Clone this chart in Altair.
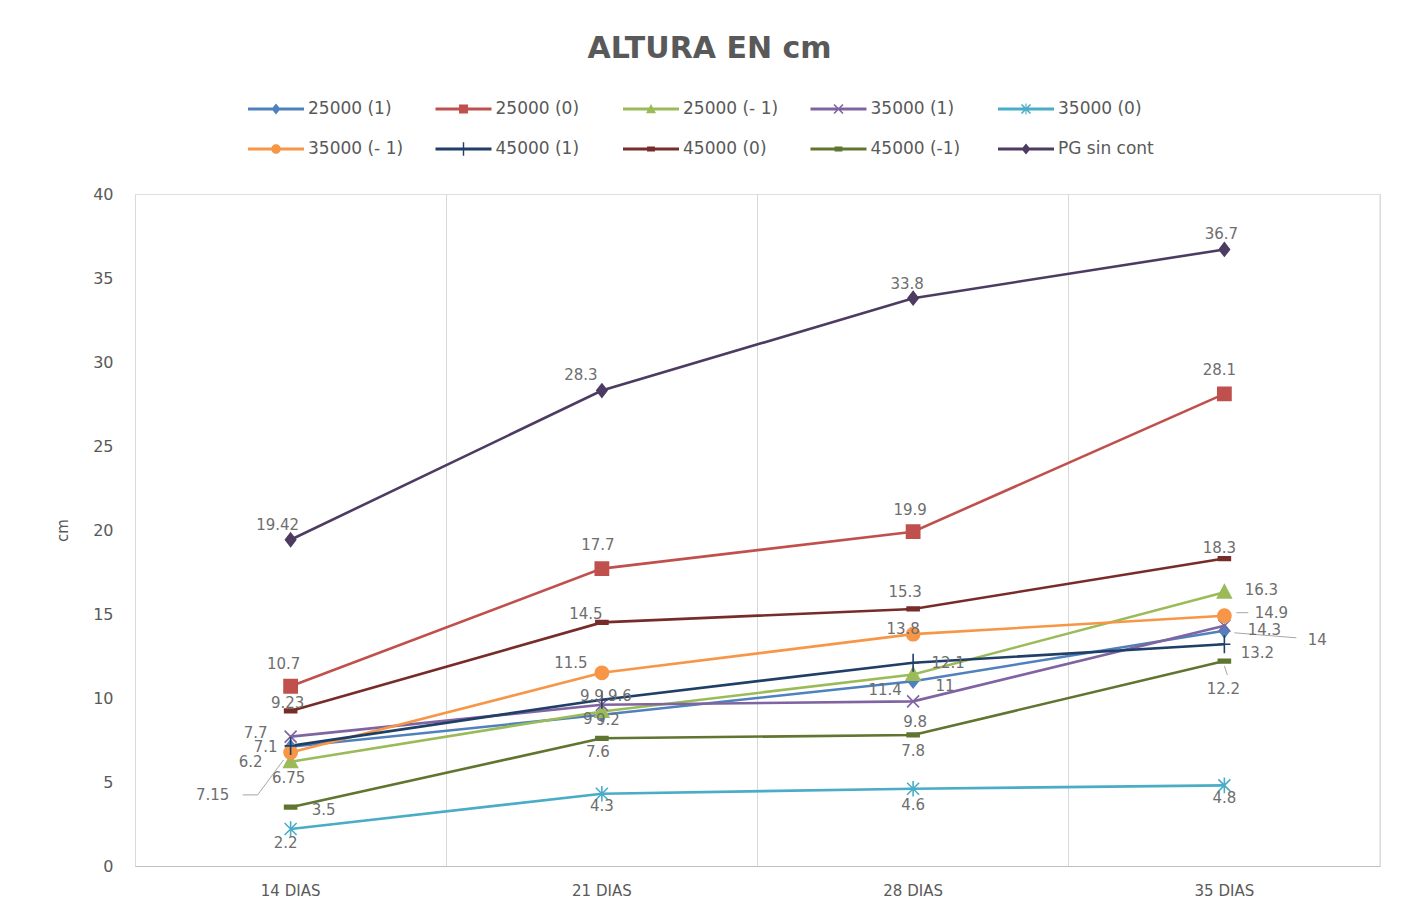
import altair as alt
import pandas as pd

# ---------------- data ----------------
dias = ["14 DIAS", "21 DIAS", "28 DIAS", "35 DIAS"]
series = ["25000 (1)", "25000 (0)", "25000 (- 1)", "35000 (1)", "35000 (0)",
          "35000 (- 1)", "45000  (1)", "45000 (0)", "45000 (-1)", "PG sin cont"]

v_25000_p1 = [7.1, 9.0, 11.0, 14.0]
v_25000_0 = [10.7, 17.7, 19.9, 28.1]
v_25000_m1 = [6.2, 9.2, 11.4, 16.3]
v_35000_p1 = [7.7, 9.6, 9.8, 14.3]
v_35000_0 = [2.2, 4.3, 4.6, 4.8]
v_35000_m1 = [6.75, 11.5, 13.8, 14.9]
v_45000_p1 = [7.15, 9.9, 12.1, 13.2]
v_45000_0 = [9.23, 14.5, 15.3, 18.3]
v_45000_m1 = [3.5, 7.6, 7.8, 12.2]
v_pg = [19.42, 28.3, 33.8, 36.7]

all_values = [v_25000_p1, v_25000_0, v_25000_m1, v_35000_p1, v_35000_0,
              v_35000_m1, v_45000_p1, v_45000_0, v_45000_m1, v_pg]

# ---------------- style ----------------
colors = ["#4F81BD", "#C0504D", "#9BBB59", "#8064A2", "#4BACC6",
          "#F79646", "#1F3F66", "#772C2A", "#5F7530", "#4D3B62"]

# marker paths (unit = sqrt(size)/2 px)
DIAMOND = "M0,-1.1L0.85,0L0,1.1L-0.85,0Z"
SQUARE = "M-1.1,-1.1H1.1V1.1H-1.1Z"
TRIANGLE = "M0,-1.2L1.15,0.95H-1.15Z"
XMARK = "M-1,-1L1,1M-1,1L1,-1"
STAR = "M-1,-1L1,1M-1,1L1,-1M0,-1.3L0,1.3"
CIRCLE = "M-1.1,0A1.1,1.1,0,1,1,1.1,0A1.1,1.1,0,1,1,-1.1,0Z"
PLUS = "M-1,0L1,0M0,-1.5L0,1.5"
DASH = "M-1,-0.3H1V0.3H-1Z"
marker_paths = [DIAMOND, SQUARE, TRIANGLE, XMARK, STAR, CIRCLE, PLUS, DASH, DASH, DIAMOND]

# legend symbols: line + marker, filled polygons (unit = 28 px)
LINE = "M-1,-0.05H1V0.05H-1Z"
L_DIAMOND = "M0,-0.2L0.16,0L0,0.2L-0.16,0Z"
L_SQUARE = "M-0.16,-0.16H0.16V0.16H-0.16Z"
L_TRIANGLE = "M0,-0.18L0.18,0.15H-0.18Z"
L_X = ("M-0.18,-0.14L-0.14,-0.18L0.18,0.14L0.14,0.18Z"
       "M-0.18,0.14L0.14,-0.18L0.18,-0.14L-0.14,0.18Z")
L_STAR = L_X + "M-0.02,-0.2H0.02V0.2H-0.02Z"
L_CIRCLE = "M-0.17,0A0.17,0.17,0,1,1,0.17,0A0.17,0.17,0,1,1,-0.17,0Z"
L_PLUS = "M-0.025,-0.24H0.025V0.24H-0.025Z"
L_DASH = "M-0.14,-0.09H0.14V0.09H-0.14Z"
legend_paths = [LINE + p for p in [L_DIAMOND, L_SQUARE, L_TRIANGLE, L_X, L_STAR,
                                   L_CIRCLE, L_PLUS, L_DASH, L_DASH, L_DIAMOND]]

# data-label placement (dx, dy in px) for each series, one per day
label_offsets = {
    "25000 (1)": [(-25, 0), (-14, 4), (32, 5), (93, 9)],
    "25000 (0)": [(-7, -22), (-4, -24), (-3, -22), (-5, -24)],
    "25000 (- 1)": [(-40, 0), (6, 9), (-28, 16), (37, -2)],
    "35000 (1)": [(-35, -4), (18, -9), (2, 21), (40, 4)],
    "35000 (0)": [(-5, 14), (0, 12), (0, 16), (0, 13)],
    "35000 (- 1)": [(-2, 25), (-31, -10), (-10, -5), (47, -3)],
    "45000  (1)": [(-78, 49), (-10, -4), (35, 0), (33, 9)],
    "45000 (0)": [(-3, -8), (-16, -8), (-8, -17), (-5, -11)],
    "45000 (-1)": [(33, 3), (-4, 14), (0, 16), (-1, 28)],
    "PG sin cont": [(-13, -15), (-21, -16), (-6, -14), (-3, -15)],
}

# leader lines for displaced labels: (serie, dia, start offset, end offset) in px
leaders = [
    ("45000  (1)", "14 DIAS", (-48, 49), (-33, 49)),
    ("45000  (1)", "14 DIAS", (-33, 49), (-7, 14)),
    ("35000 (- 1)", "35 DIAS", (12, -3), (24, -3)),
    ("25000 (1)", "35 DIAS", (10, 2), (72, 7)),
    ("45000 (-1)", "35 DIAS", (0, 5), (3, 14)),
]

rows = []
for s, vals in zip(series, all_values):
    for d, v in zip(dias, vals):
        rows.append({"serie": s, "serie_m": s, "dia": d, "valor": v, "label": f"{v:g}"})
df = pd.DataFrame(rows)

W, H = 1245, 672
FONT = "DejaVu Sans"
GRAY = "#595959"

x_enc = alt.X("dia:N", sort=dias, bandPosition=0.5,
              scale=alt.Scale(type="band", paddingInner=0, paddingOuter=0),
              axis=alt.Axis(title=None, bandPosition=0, grid=True, gridColor="#D9D9D9",
                            gridWidth=1, ticks=False, labelAlign="center",
                            domainColor="#BFBFBF", labelColor=GRAY, labelFont=FONT,
                            labelFontSize=15, labelPadding=24, labelAngle=0))
y_enc = alt.Y("valor:Q", scale=alt.Scale(domain=[0, 40], nice=False),
              axis=alt.Axis(title="cm", values=list(range(0, 41, 5)), grid=False,
                            domain=False, ticks=False, labelColor=GRAY, labelFont=FONT,
                            labelFontSize=16, labelPadding=22, titleColor=GRAY,
                            titleFont=FONT, titleFontSize=15, titleFontWeight="normal",
                            titlePadding=22))

base = alt.Chart(df)

lines = base.mark_line(strokeWidth=2.6).encode(
    x=x_enc, y=y_enc,
    stroke=alt.Stroke("serie:N", scale=alt.Scale(domain=series, range=colors), legend=None),
)

markers = base.mark_point(filled=True, size=144, strokeWidth=1.6, opacity=1).encode(
    x=x_enc, y=y_enc,
    fill=alt.Fill("serie:N", scale=alt.Scale(domain=series, range=colors), legend=None),
    stroke=alt.Stroke("serie:N", scale=alt.Scale(domain=series, range=colors), legend=None),
    shape=alt.Shape("serie_m:N", scale=alt.Scale(domain=series, range=marker_paths), legend=None),
)

# data labels, one layer per placement
groups = {}
for s in series:
    for d, off in zip(dias, label_offsets[s]):
        groups.setdefault(off, []).append((s, d))
label_layers = []
for off, members in groups.items():
    cond = " || ".join(
        f"(datum.serie === '{s}' && datum.dia === '{d}')" for s, d in members)
    label_layers.append(
        base.transform_filter(cond)
        .mark_text(font=FONT, fontSize=15, color="#6E6E6E", dx=off[0], dy=off[1])
        .encode(x=x_enc, y=y_enc, text="label:N")
    )

leader_layers = []
for s, d, p0, p1 in leaders:
    leader_layers.append(
        base.transform_filter(f"datum.serie === '{s}' && datum.dia === '{d}'")
        .mark_rule(color="#A6A6A6", strokeWidth=1,
                   xOffset=p0[0], yOffset=p0[1], x2Offset=p1[0], y2Offset=p1[1])
        .encode(x=x_enc, y=y_enc,
                x2=alt.X2("dia:N", bandPosition=0.5), y2=alt.Y2("valor:Q"))
    )

legend_def = alt.Legend(title=None, orient="none", legendX=113, legendY=-113,
                        direction="horizontal", columns=5, symbolSize=3136,
                        symbolStrokeWidth=0, symbolOpacity=1,
                        labelFont=FONT, labelFontSize=17, labelColor=GRAY,
                        labelOffset=4, columnPadding=31.5, rowPadding=4,
                        gridAlign="all", labelLimit=300)

legend_layer = base.transform_filter("false").mark_point(filled=True, opacity=1).encode(
    x=x_enc, y=y_enc,
    color=alt.Color("serie:N", scale=alt.Scale(domain=series, range=colors), legend=legend_def),
    shape=alt.Shape("serie:N", scale=alt.Scale(domain=series, range=legend_paths), legend=legend_def),
)

right_edge = alt.Chart(pd.DataFrame({"dia": [dias[-1]]})).mark_rule(
    color="#D9D9D9", strokeWidth=1).encode(
    x=alt.X("dia:N", sort=dias, bandPosition=1),
    y=alt.datum(0), y2=alt.datum(40),
)

chart = alt.layer(right_edge, lines, markers, *leader_layers, *label_layers,
                  legend_layer).resolve_scale(
    shape="independent", color="independent"
).resolve_legend(shape="independent", color="independent").properties(
    width=W, height=H,
    title=alt.TitleParams("ALTURA EN cm", font=FONT, fontSize=30, fontWeight="bold",
                          color=GRAY, anchor="middle", offset=17, dx=-48),
    autosize=alt.AutoSizeParams(type="none"),
    padding={"left": 127, "top": 186, "right": 30, "bottom": 33},
).configure_view(stroke=None).configure(background="white")

chart.save("out.html", embed_options={"renderer": "svg", "actions": False})
